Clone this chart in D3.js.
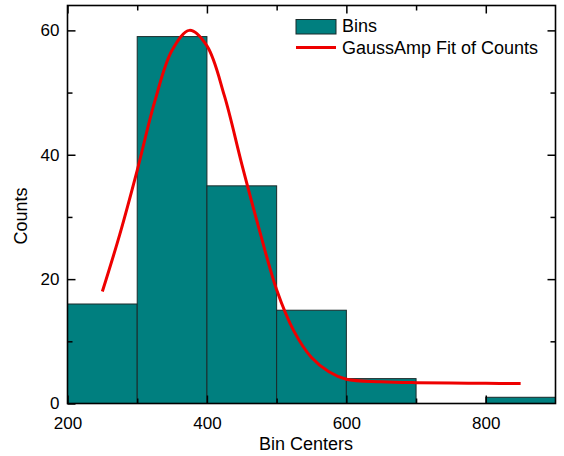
<!DOCTYPE html>
<html><head><meta charset="utf-8">
<script src="https://cdn.jsdelivr.net/npm/d3@7"></script>
<style>body{margin:0;background:#fff;} svg{display:block;font-family:"Liberation Sans",Arial,sans-serif;}</style>
</head><body>
<svg id="c" width="564" height="456"></svg>
<script>
// Data
const binStarts = [200, 300, 400, 500, 600, 700, 800];
const binWidth = 100;
const counts = [16, 59, 35, 15, 4, 0, 1];
const fitX = [250, 275, 300, 325, 350, 375, 400, 425, 450, 475, 500, 525, 550, 575, 600, 650, 700, 750, 800, 850];
const fitY = [18, 27.2, 37.5, 48.5, 56.8, 60, 57.5, 49.5, 38.5, 28, 18.3, 11.6, 7.4, 5.1, 3.9, 3.5, 3.35, 3.3, 3.25, 3.2];
const xTicks = [200, 400, 600, 800];
const xMinor = [300, 500, 700];
const yTicks = [0, 20, 40, 60];
const yMinor = [10, 30, 50];
const legendLabels = ["Bins", "GaussAmp Fit of Counts"];

const svg = d3.select("#c");
const L = 67.5, R = 555.5, T = 5.5, B = 403.5;
const x = d3.scaleLinear().domain([200, 900]).range([L, R]);
const y = d3.scaleLinear().domain([0, 64]).range([B, T]);
const barColor = "#007f7f";
const red = "#ee0000";

// bars
svg.append("g").selectAll("rect").data(binStarts.map((s, i) => ({s, v: counts[i]})).filter(d => d.v > 0))
  .join("rect")
  .attr("x", d => x(d.s)).attr("width", d => x(d.s + binWidth) - x(d.s))
  .attr("y", d => y(d.v)).attr("height", d => y(0) - y(d.v))
  .attr("fill", barColor).attr("stroke", "#1a2a2a").attr("stroke-width", 1);

// fit line
const line = d3.line().x((d, i) => x(fitX[i])).y(d => y(d)).curve(d3.curveCatmullRom);
svg.append("path").datum(fitY).attr("d", line)
  .attr("fill", "none").attr("stroke", red).attr("stroke-width", 3);

// axes
const fs = "17px";
function styleAxis(g) { g.select(".domain").remove(); g.selectAll("line").attr("stroke", "#000").attr("stroke-width", 1.5); g.selectAll("text").attr("fill", "#000").style("font-size", fs).style("font-family", "Liberation Sans, Arial, sans-serif"); }
svg.append("g").attr("transform", `translate(0,${B})`)
  .call(d3.axisBottom(x).tickValues(xTicks).tickSizeInner(-8).tickSizeOuter(0).tickPadding(13).tickFormat(d3.format("d"))).call(styleAxis);
svg.append("g").attr("transform", `translate(0,${B})`)
  .call(d3.axisBottom(x).tickValues(xMinor).tickSizeInner(-5).tickSizeOuter(0).tickFormat("")).call(styleAxis);
svg.append("g").attr("transform", `translate(0,${T})`)
  .call(d3.axisTop(x).tickValues(xTicks).tickSizeInner(-8).tickSizeOuter(0).tickFormat("")).call(styleAxis);
svg.append("g").attr("transform", `translate(0,${T})`)
  .call(d3.axisTop(x).tickValues(xMinor).tickSizeInner(-5).tickSizeOuter(0).tickFormat("")).call(styleAxis);
svg.append("g").attr("transform", `translate(${L},0)`)
  .call(d3.axisLeft(y).tickValues(yTicks).tickSizeInner(-8).tickSizeOuter(0).tickPadding(8).tickFormat(d3.format("d"))).call(styleAxis);
svg.append("g").attr("transform", `translate(${L},0)`)
  .call(d3.axisLeft(y).tickValues(yMinor).tickSizeInner(-5).tickSizeOuter(0).tickFormat("")).call(styleAxis);
svg.append("g").attr("transform", `translate(${R},0)`)
  .call(d3.axisRight(y).tickValues(yTicks.filter(v => v > 0)).tickSizeInner(-8).tickSizeOuter(0).tickFormat("")).call(styleAxis);
svg.append("g").attr("transform", `translate(${R},0)`)
  .call(d3.axisRight(y).tickValues(yMinor).tickSizeInner(-5).tickSizeOuter(0).tickFormat("")).call(styleAxis);

// frame
svg.append("rect").attr("x", L).attr("y", T).attr("width", R - L).attr("height", B - T)
  .attr("fill", "none").attr("stroke", "#000").attr("stroke-width", 1.6);

// axis titles
svg.append("text").attr("x", 306).attr("y", 450).attr("text-anchor", "middle")
  .style("font-size", "18px").text("Bin Centers");
svg.append("text").attr("transform", `translate(27,216) rotate(-90)`).attr("text-anchor", "middle")
  .style("font-size", "18px").text("Counts");

// legend
const lg = svg.append("g");
lg.append("rect").attr("x", 296).attr("y", 19.5).attr("width", 40).attr("height", 14.5)
  .attr("fill", barColor).attr("stroke", "#1a2a2a").attr("stroke-width", 1);
lg.append("text").attr("x", 342).attr("y", 32).style("font-size", "18px").text(legendLabels[0]);
lg.append("line").attr("x1", 296).attr("x2", 336).attr("y1", 47.5).attr("y2", 47.5)
  .attr("stroke", red).attr("stroke-width", 3);
lg.append("text").attr("x", 342).attr("y", 53.5).style("font-size", "18px").text(legendLabels[1]);
</script>
</body></html>
